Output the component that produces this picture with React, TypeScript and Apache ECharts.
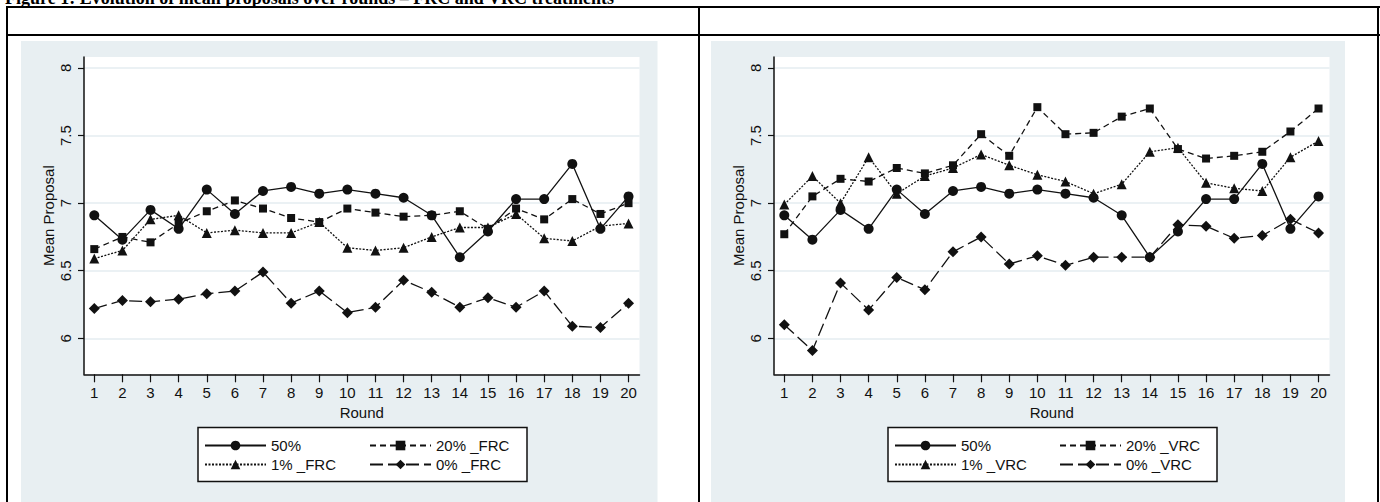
import React, { useEffect, useRef } from "react";
import * as echarts from "echarts";

// ---------- data ----------
const rounds = [1, 2, 3, 4, 5, 6, 7, 8, 9, 10, 11, 12, 13, 14, 15, 16, 17, 18, 19, 20];
const yTicks = [6, 6.5, 7, 7.5, 8];

const title = "Figure 1: Evolution of mean proposals over rounds \u2013 FRC and VRC treatments";

const p50 = [6.91, 6.73, 6.95, 6.81, 7.10, 6.92, 7.09, 7.12, 7.07, 7.10, 7.07, 7.04, 6.91, 6.60, 6.79, 7.03, 7.03, 7.29, 6.81, 7.05];

const p20FRC = [6.66, 6.75, 6.71, 6.85, 6.94, 7.02, 6.96, 6.89, 6.86, 6.96, 6.93, 6.90, 6.91, 6.94, 6.81, 6.96, 6.88, 7.03, 6.92, 7.00];
const p1FRC = [6.59, 6.65, 6.88, 6.91, 6.78, 6.80, 6.78, 6.78, 6.86, 6.67, 6.65, 6.67, 6.75, 6.82, 6.82, 6.92, 6.74, 6.72, 6.83, 6.85];
const p0FRC = [6.22, 6.28, 6.27, 6.29, 6.33, 6.35, 6.49, 6.26, 6.35, 6.19, 6.23, 6.43, 6.34, 6.23, 6.30, 6.23, 6.35, 6.09, 6.08, 6.26];

const p20VRC = [6.77, 7.05, 7.18, 7.16, 7.26, 7.22, 7.28, 7.51, 7.35, 7.71, 7.51, 7.52, 7.64, 7.70, 7.40, 7.33, 7.35, 7.38, 7.53, 7.70];
const p1VRC = [6.99, 7.20, 7.00, 7.34, 7.07, 7.20, 7.26, 7.36, 7.28, 7.21, 7.16, 7.07, 7.14, 7.38, 7.41, 7.15, 7.11, 7.09, 7.34, 7.46];
const p0VRC = [6.10, 5.91, 6.41, 6.21, 6.45, 6.36, 6.64, 6.75, 6.55, 6.61, 6.54, 6.60, 6.60, 6.60, 6.84, 6.83, 6.74, 6.76, 6.88, 6.78];

const namesFRC = ["50%", "20% _FRC", "1% _FRC", "0% _FRC"];
const namesVRC = ["50%", "20% _VRC", "1% _VRC", "0% _VRC"];

// ---------- styles ----------
const FONT = "'Liberation Sans', Arial, Helvetica, sans-serif";
const INK = "#111111";
const PANEL_BG = "#e8eff2";
const GRID_LINE = "#e4edf0";

const seriesStyles = [
  { symbol: "circle", size: 10, dash: "solid" as any },
  { symbol: "rect", size: 8, dash: [6, 4] as any },
  { symbol: "triangle", size: 10, dash: [2, 1.5] as any },
  { symbol: "diamond", size: 11, dash: [13, 5] as any },
];

const panels = [
  { dx: 0, names: namesFRC, values: [p50, p20FRC, p1FRC, p0FRC] },
  { dx: 690, names: namesVRC, values: [p50, p20VRC, p1VRC, p0VRC] },
];

function buildOption() {
  const textStyle = { fontFamily: FONT, fontSize: 15, color: INK };

  const grid: any[] = [];
  const xAxis: any[] = [];
  const yAxis: any[] = [];
  const series: any[] = [];
  const legend: any[] = [];
  const graphic: any[] = [];

  panels.forEach((p, i) => {
    grid.push({
      left: 84 + p.dx,
      top: 57,
      width: 555.5,
      height: 317.3,
      show: true,
      backgroundColor: "#ffffff",
      borderWidth: 0,
    });
    xAxis.push({
      type: "value",
      gridIndex: i,
      min: 0.634,
      max: 20.39,
      axisLine: { show: true, onZero: false, lineStyle: { color: INK, width: 1.5 } },
      axisTick: { show: true, length: 8, customValues: rounds, lineStyle: { color: INK, width: 1.2 } },
      axisLabel: { customValues: rounds, margin: 11, ...textStyle },
      splitLine: { show: false },
      name: "Round",
      nameLocation: "middle",
      nameGap: 27,
      nameTextStyle: textStyle,
    });
    yAxis.push({
      type: "value",
      gridIndex: i,
      min: 5.734,
      max: 8.081,
      axisLine: { show: true, onZero: false, lineStyle: { color: INK, width: 1.5 } },
      axisTick: { show: true, length: 6, customValues: yTicks, lineStyle: { color: INK, width: 1.2 } },
      axisLabel: { customValues: yTicks, rotate: 90, margin: 11, ...textStyle },
      splitLine: { show: true, lineStyle: { color: GRID_LINE, width: 1.5 } },
      name: "Mean Proposal",
      nameLocation: "middle",
      nameGap: 28,
      nameRotate: 90,
      nameTextStyle: textStyle,
    });

    p.values.forEach((vals, k) => {
      const st = seriesStyles[k];
      series.push({
        type: "line",
        name: p.names[k],
        xAxisIndex: i,
        yAxisIndex: i,
        data: rounds.map((r, j) => [r, vals[j]]),
        symbol: st.symbol,
        symbolSize: st.size,
        showSymbol: true,
        clip: false,
        lineStyle: { color: INK, width: 1.3, type: st.dash },
        itemStyle: { color: INK, borderWidth: 0 },
        emphasis: { disabled: true },
        z: 2 + k,
      });
    });

    const legendBase = {
      orient: "vertical",
      top: 438,
      itemWidth: 61,
      itemHeight: 12,
      itemGap: 4,
      padding: 0,
      selectedMode: false,
      textStyle: { ...textStyle },
    };
    legend.push({ ...legendBase, left: 204 + p.dx, data: [p.names[0], p.names[2]] });
    legend.push({ ...legendBase, left: 369 + p.dx, data: [p.names[1], p.names[3]] });

    // panel background
    graphic.push({
      type: "rect",
      z: -10,
      shape: { x: 21 + p.dx, y: 41, width: 636.5 - (i === 1 ? 2.5 : 0), height: 470 },
      style: { fill: PANEL_BG },
      silent: true,
    });
    // legend box
    graphic.push({
      type: "rect",
      z: 3,
      shape: { x: 198 + p.dx, y: 427.5, width: 329, height: 54 },
      style: { fill: "#ffffff", stroke: INK, lineWidth: 1.5 },
      silent: true,
    });
  });

  // table lines
  const tableStroke = { stroke: "#000000", lineWidth: 2 };
  [
    [6, 7, 1380, 7],
    [6, 35, 1380, 35],
    [7, 6, 7, 502],
    [699, 6, 699, 502],
    [1378, 6, 1378, 502],
  ].forEach(([x1, y1, x2, y2]) => {
    graphic.push({ type: "line", z: 20, shape: { x1, y1, x2, y2 }, style: tableStroke, silent: true });
  });

  graphic.push({
    type: "text",
    z: 20,
    x: 5,
    y: 7,
    silent: true,
    style: {
      text: title,
      font: "bold 18px 'Liberation Serif', 'Times New Roman', serif",
      fill: "#000000",
      verticalAlign: "bottom",
    },
  });

  return {
    animation: false,
    backgroundColor: "#ffffff",
    grid,
    xAxis,
    yAxis,
    series,
    legend,
    graphic,
  };
}

export default function App() {
  const ref = useRef<HTMLDivElement>(null);
  useEffect(() => {
    if (!ref.current) return;
    const chart = echarts.init(ref.current, null, { renderer: "svg" });
    chart.setOption(buildOption() as any);
    return () => {
      chart.dispose();
    };
  }, []);
  return (
    <div
      ref={ref}
      style={{ position: "absolute", left: 0, top: 0, width: 1380, height: 502 }}
    />
  );
}
